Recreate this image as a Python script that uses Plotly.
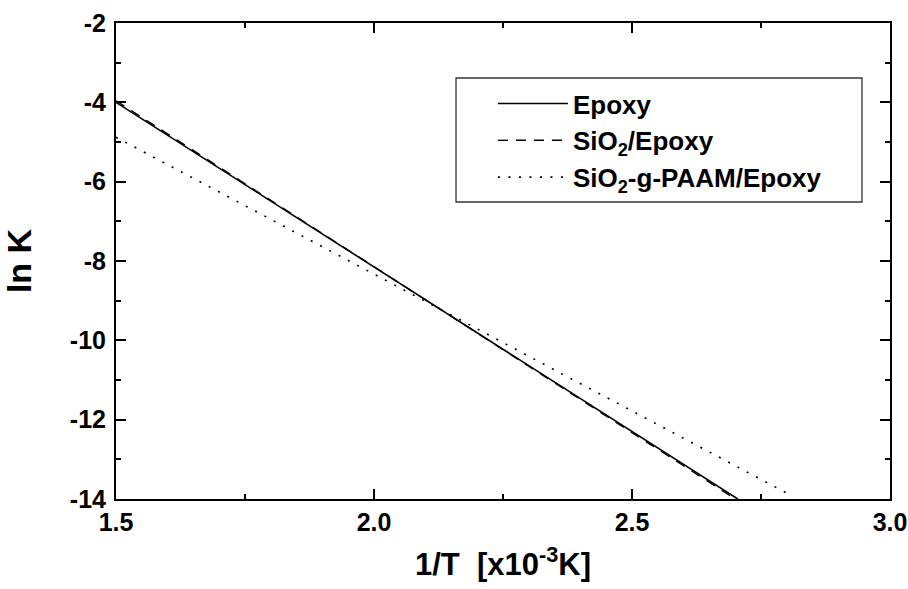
import plotly.graph_objects as go

# Data (fitted Arrhenius lines, endpoints)
epoxy_x = [1.5, 2.705]
epoxy_y = [-4.0, -14.0]
sio2_x = [1.5, 2.70]
sio2_y = [-3.96, -14.0]
paam_x = [1.5, 2.81]
paam_y = [-4.88, -13.92]

names = ["Epoxy", "SiO<sub>2</sub>/Epoxy", "SiO<sub>2</sub>-g-PAAM/Epoxy"]

x_ticks = [1.5, 2.0, 2.5, 3.0]
x_ticklabels = ["1.5", "2.0", "2.5", "3.0"]
y_ticks = [-2, -4, -6, -8, -10, -12, -14]
y_ticklabels = ["-2", "-4", "-6", "-8", "-10", "-12", "-14"]

FONT = "Liberation Sans, Arial, sans-serif"

fig = go.Figure()
fig.add_trace(go.Scatter(x=epoxy_x, y=epoxy_y, mode="lines", name=names[0],
                         line=dict(color="black", width=1.6)))
fig.add_trace(go.Scatter(x=sio2_x, y=sio2_y, mode="lines", name=names[1],
                         line=dict(color="black", width=1.4, dash="10px,8px")))
fig.add_trace(go.Scatter(x=paam_x, y=paam_y, mode="lines", name=names[2],
                         line=dict(color="black", width=1.6, dash="2px,8.5px")))

axis_common = dict(
    showgrid=False, zeroline=False, automargin=False,
    showline=True, linecolor="black", linewidth=2, mirror="allticks",
    ticks="inside", ticklen=10, tickwidth=2, tickcolor="black",
    tickfont=dict(family=FONT, size=25, color="black", weight="bold"),
)

fig.update_xaxes(
    range=[1.5, 3.0], tickvals=x_ticks, ticktext=x_ticklabels,
    minor=dict(dtick=0.25, ticks="inside", ticklen=5, tickwidth=2, tickcolor="black"),
    title=dict(text="1/T\u00a0\u00a0[x10<sup>-3</sup>K]",
               font=dict(family=FONT, size=31, color="black", weight="bold"),
               standoff=18),
    **axis_common,
)
fig.update_yaxes(
    range=[-14, -2], tickvals=y_ticks, ticktext=y_ticklabels,
    minor=dict(dtick=1, ticks="inside", ticklen=5, tickwidth=2, tickcolor="black"),
    ticklabelstandoff=3,
    title=dict(text="ln K",
               font=dict(family=FONT, size=34, color="black", weight="bold"),
               standoff=28),
    **axis_common,
)

# legend frame
fig.add_shape(type="rect", xref="paper", yref="paper",
              x0=0.4393, x1=0.9638, y0=0.624, y1=0.8845,
              line=dict(color="#333333", width=1.3), fillcolor="white", layer="below")

fig.update_layout(
    width=908, height=589,
    margin=dict(l=116, r=18, t=23, b=90),
    paper_bgcolor="white", plot_bgcolor="white",
    showlegend=True,
    legend=dict(
        x=0.487, y=0.880, xanchor="left", yanchor="top",
        bgcolor="rgba(0,0,0,0)", borderwidth=0,
        font=dict(family=FONT, size=26, color="black", weight="bold"),
        itemwidth=70, tracegroupgap=0,
    ),
)

fig.write_html("out.html")
